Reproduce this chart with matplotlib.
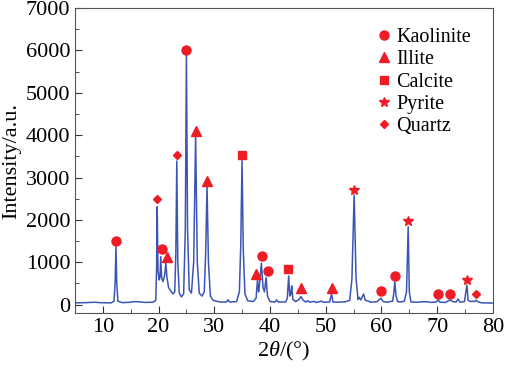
import numpy as np
import matplotlib
matplotlib.use('Agg')
import matplotlib.pyplot as plt
from matplotlib.ticker import MultipleLocator

plt.rcParams['font.family'] = ['Liberation Serif', 'DejaVu Serif']
plt.rcParams['mathtext.fontset'] = 'custom'
plt.rcParams['mathtext.rm'] = 'Liberation Serif'
plt.rcParams['mathtext.it'] = 'Liberation Serif:italic'

# XRD pattern (2theta, intensity)
two_theta = [5.0, 7.0, 8.5, 9.5, 11.5, 12.0, 12.2, 12.35, 12.5, 12.7, 13.5, 15.0, 15.5, 16.5, 17.5,
             19.0, 19.5, 19.65, 19.75, 19.9, 20.1, 20.25, 20.4, 20.55, 20.8, 21.1, 21.3, 21.5, 21.8,
             22.2, 22.6, 22.9, 23.1, 23.27, 23.45, 23.7, 24.1, 24.5, 24.8, 25.0, 25.2, 25.5, 25.9,
             26.3, 26.65, 26.95, 27.3, 27.8, 28.2, 28.45, 28.7, 28.95, 29.3, 29.8, 31.0, 32.2, 32.45,
             32.8, 34.0, 34.5, 34.75, 34.98, 35.2, 35.5, 36.0, 37.0, 37.5, 37.76, 37.95, 38.1, 38.45,
             38.75, 39.0, 39.3, 39.55, 40.0, 40.9, 41.2, 41.5, 42.8, 43.1, 43.35, 43.55, 43.75, 43.9,
             44.1, 44.6, 45.2, 45.55, 45.9, 46.4, 46.8, 47.1, 47.9, 48.3, 49.3, 49.6, 50.7, 51.05,
             51.3, 52.0, 53.5, 54.3, 54.7, 55.1, 55.45, 55.8, 56.0, 56.3, 56.8, 57.1, 57.7, 58.0,
             58.6, 59.2, 59.9, 60.3, 61.0, 62.0, 62.2, 62.4, 62.6, 62.9, 63.5, 64.1, 64.5, 64.8,
             65.0, 65.3, 66.5, 67.3, 68.2, 69.0, 69.8, 70.15, 70.5, 71.5, 72.3, 72.8, 73.4, 73.75,
             74.1, 74.9, 75.15, 75.35, 75.55, 76.0, 76.4, 76.7, 77.0, 77.4, 78.0, 80.0]
intensity = [40, 45, 55, 45, 40, 80, 500, 1360, 500, 80, 45, 55, 70, 65, 50,
             55, 100, 900, 2310, 800, 580, 650, 1130, 620, 540, 700, 980, 650, 400,
             320, 250, 300, 1200, 3390, 1000, 280, 180, 250, 1800, 5900, 1800, 350, 270,
             1000, 3980, 1000, 270, 200, 300, 1200, 2785, 1000, 200, 100, 60, 60, 110,
             60, 70, 300, 1400, 3400, 1300, 250, 90, 70, 150, 595, 300, 450, 975,
             400, 300, 635, 200, 70, 60, 110, 60, 60, 150, 675, 200, 250, 440,
             120, 70, 120, 190, 110, 60, 90, 55, 75, 50, 80, 55, 60, 250,
             60, 55, 65, 100, 600, 2590, 600, 120, 170, 110, 250, 100, 80, 55,
             60, 70, 150, 70, 55, 80, 250, 540, 220, 70, 60, 80, 300, 1840,
             300, 60, 55, 65, 65, 50, 60, 110, 55, 50, 110, 70, 60, 130,
             55, 70, 300, 460, 100, 70, 80, 70, 100, 60, 40, 35]

# phase markers (2theta, intensity)
kaolinite_x = [12.4, 20.6, 25.0, 38.5, 39.7, 60.0, 62.4, 70.2, 72.3]
kaolinite_y = [1500, 1320, 6020, 1145, 800, 320, 675, 260, 260]
illite_x = [21.6, 26.7, 28.7, 37.5, 45.6, 51.2]
illite_y = [1115, 4110, 2925, 715, 400, 400]
calcite_x = [35.0, 43.3]
calcite_y = [3535, 850]
pyrite_x = [55.15, 64.85, 75.35]
pyrite_y = [2710, 1975, 580]
quartz_x = [19.75, 23.3, 77.0]
quartz_y = [2490, 3530, 250]

red = '#ee1c25'
blue = '#3a55b4'

fig = plt.figure(figsize=(5.05, 3.7), dpi=100)
ax = fig.add_axes([0.1485, 0.154, 0.8275, 0.824])

ax.plot(two_theta, intensity, color=blue, lw=1.1)
ax.plot(kaolinite_x, kaolinite_y, 'o', color=red, ms=6.5, ls='none', label='Kaolinite')
ax.plot(illite_x, illite_y, '^', color=red, ms=6.5, ls='none', label='Illite')
ax.plot(calcite_x, calcite_y, 's', color=red, ms=6, ls='none', label='Calcite')
ax.plot(pyrite_x, pyrite_y, '*', color=red, ms=7.5, ls='none', label='Pyrite')
ax.plot(quartz_x, quartz_y, 'D', color=red, ms=4.5, ls='none', label='Quartz')

ax.set_xlim(5, 80)
ax.set_ylim(-200, 7000)
ax.xaxis.set_major_locator(MultipleLocator(10))
ax.xaxis.set_minor_locator(MultipleLocator(5))
ax.yaxis.set_major_locator(MultipleLocator(1000))
ax.yaxis.set_minor_locator(MultipleLocator(500))
ax.tick_params(which='both', direction='in', labelsize=16, color='#333333')
ax.tick_params(which='major', length=5)
ax.tick_params(which='minor', length=3)
for s in ax.spines.values():
    s.set_color('#555555')

ax.set_xlabel(r'2$\theta$/(°)', fontsize=16, labelpad=2)
ax.set_ylabel('Intensity/a.u.', fontsize=16, labelpad=3)

ax.legend(loc='upper left', bbox_to_anchor=(0.69, 0.985), frameon=False, fontsize=14.5,
          handlelength=0.6, handletextpad=0.3, labelspacing=0.16, borderpad=0.25)

fig.savefig('out.png', dpi=100)
